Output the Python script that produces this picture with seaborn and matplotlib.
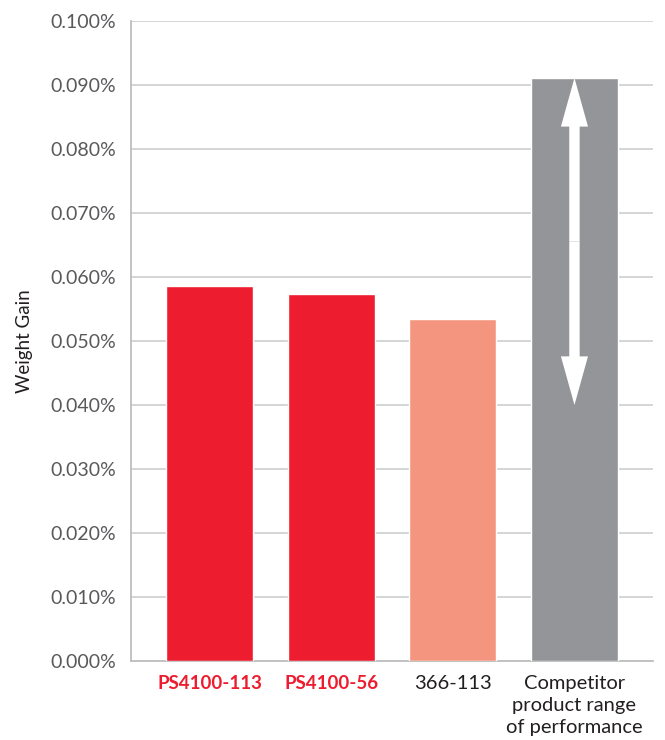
import numpy as np
import pandas as pd
import matplotlib
matplotlib.use('Agg')
import matplotlib.pyplot as plt
import seaborn as sns

# ### chart data (weight gain, in %)
products = ['PS4100-113', 'PS4100-56', '366-113', 'Competitor\nproduct range\nof performance']
weight_gain = [0.0586, 0.0573, 0.0534, 0.0911]
bar_colors = ['#ED1C2E', '#ED1C2E', '#F4967F', '#939598']
label_colors = ['#ED1C2E', '#ED1C2E', '#231F20', '#231F20']
label_weights = ['bold', 'bold', 'normal', 'normal']
range_low, range_high = 0.040, 0.0911  # competitor range arrow
yticks = np.arange(0, 0.1001, 0.010)

sns.set_style('white')
plt.rcParams['font.family'] = ['Lato', 'DejaVu Sans']

df = pd.DataFrame({'product': products, 'gain': weight_gain})

fig = plt.figure(figsize=(6.65, 7.4), dpi=100)
ax = fig.add_axes([0.197, 0.1068, 0.785, 0.8648])

sns.barplot(data=df, x='product', y='gain', hue='product',
            palette=bar_colors, width=0.716, legend=False, ax=ax,
            saturation=1, zorder=3)

ax.set_ylim(0, 0.100)
ax.set_xlim(-0.646, 3.646)
ax.set_yticks(yticks)
ax.set_yticklabels([f'{v:.3f}%' for v in yticks], fontsize=14, color='#58595B')
ax.yaxis.grid(True, color='#D1D2D4', lw=1.3, zorder=0)
ax.set_axisbelow(True)
ax.tick_params(axis='both', length=0)
ax.tick_params(axis='y', pad=11)
ax.tick_params(axis='x', pad=10)

for sp in ['top', 'right']:
    ax.spines[sp].set_visible(False)
for sp in ['left', 'bottom']:
    ax.spines[sp].set_color('#BCBEC0')
    ax.spines[sp].set_linewidth(1.3)

for lbl, c, w in zip(ax.get_xticklabels(), label_colors, label_weights):
    lbl.set_color(c)
    lbl.set_fontweight(w)
    lbl.set_fontsize(13.5 if w == 'bold' else 14.5)
    lbl.set_linespacing(1.38)

ax.set_xlabel('')
ax.set_ylabel('Weight Gain', fontsize=13.5, color='#231F20', labelpad=12)

# ### double-headed white arrow over competitor bar
mid = (range_low + range_high) / 2
for end in [range_low, range_high]:
    ax.annotate('', xy=(3, end), xytext=(3, mid),
                arrowprops=dict(arrowstyle='simple,head_length=35,head_width=19.5,tail_width=7.5',
                                mutation_scale=1, color='white', lw=0,
                                shrinkA=0, shrinkB=0),
                zorder=5)

plt.savefig('out.png', dpi=100)
